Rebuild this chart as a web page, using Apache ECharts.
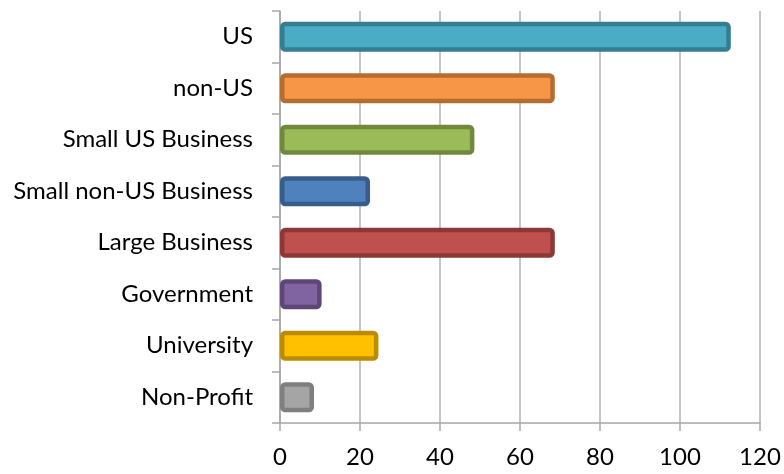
<!DOCTYPE html>
<html><head><meta charset="utf-8">
<script src="https://cdn.jsdelivr.net/npm/echarts@6/dist/echarts.min.js"></script>
<style>html,body{margin:0;padding:0;background:#fff}#c{width:784px;height:474px}</style>
</head><body><div id="c"></div>
<script>
const categories = ["US", "non-US", "Small US Business", "Small non-US Business", "Large Business", "Government", "University", "Non-Profit"];
const values = [112.7, 68.7, 48.6, 22.5, 68.7, 10.4, 24.6, 8.5];
const fillColors = ["#4BACC6", "#F79646", "#9BBB59", "#4F81BD", "#C0504D", "#8064A2", "#FFC000", "#A5A5A5"];
const borderColors = ["#357D91", "#B66D31", "#71893F", "#385D8A", "#8C3836", "#5C4776", "#BC8C00", "#7F7F7F"];
const xTicks = [0, 20, 40, 60, 80, 100, 120];

const chart = echarts.init(document.getElementById('c'), null, {renderer: 'canvas'});
const font = 'Lato';
chart.setOption({
  animation: false,
  grid: {left: 280, right: 24, top: 11, bottom: 51},
  xAxis: {
    type: 'value', min: xTicks[0], max: xTicks[xTicks.length - 1], interval: 20,
    axisLine: {show: true, lineStyle: {color: '#A6A6A6', width: 1.5}},
    axisTick: {show: true, length: 8, lineStyle: {color: '#A6A6A6', width: 1.5}},
    splitLine: {show: true, lineStyle: {color: '#B0B0B0', width: 1.5}},
    axisLabel: {margin: 22, color: '#000', fontFamily: font, fontSize: 24}
  },
  yAxis: {
    type: 'category', data: categories, inverse: true,
    axisLine: {show: true, lineStyle: {color: '#A6A6A6', width: 1.5}},
    axisTick: {show: true, length: 8, lineStyle: {color: '#A6A6A6', width: 1.5}},
    axisLabel: {margin: 27, color: '#000', fontFamily: font, fontSize: 24}
  },
  series: [{
    type: 'bar', barWidth: 30,
    data: values.map((v, i) => ({value: v, itemStyle: {color: fillColors[i], borderColor: borderColors[i], borderWidth: 4.5, borderRadius: 3}}))
  }]
});
</script></body></html>
